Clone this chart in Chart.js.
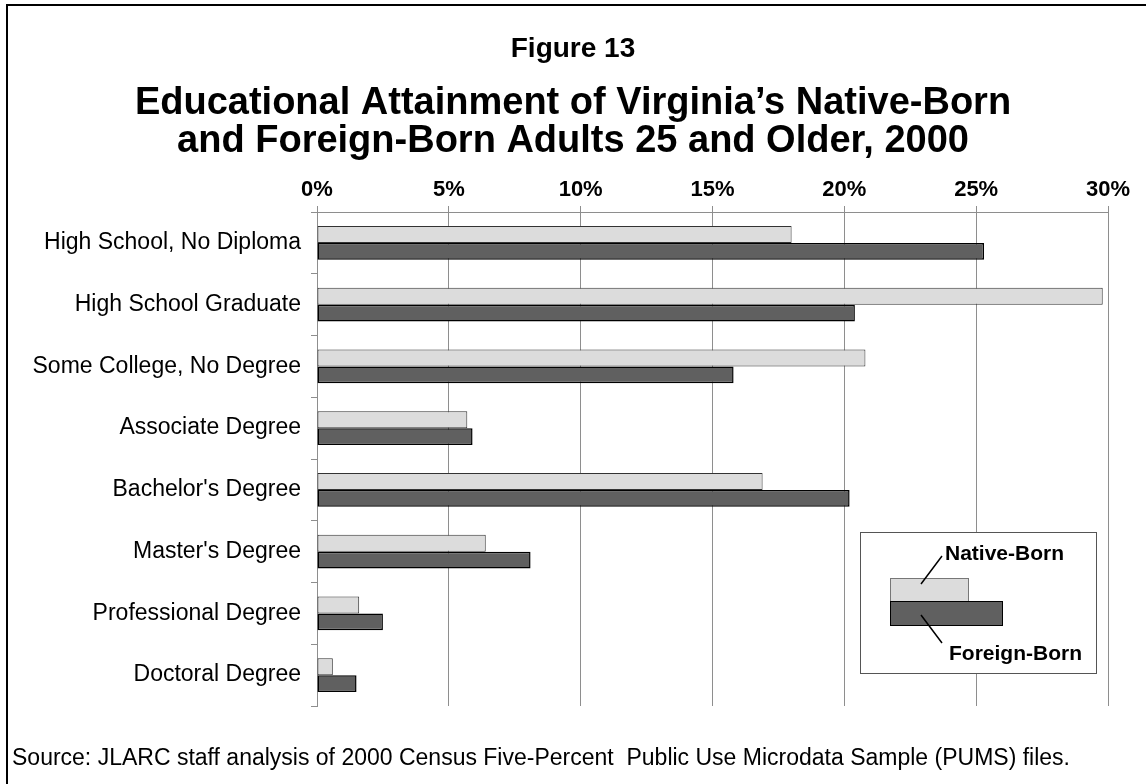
<!DOCTYPE html>
<html>
<head>
<meta charset="utf-8">
<script src="https://cdn.jsdelivr.net/npm/chart.js@4.4.0/dist/chart.umd.min.js"></script>
<style>
  html, body { margin: 0; padding: 0; background: #fff; }
  #wrap { width: 1146px; height: 784px; position: relative; }
</style>
</head>
<body>
<div id="wrap"><canvas id="eduChart" width="1146" height="784"></canvas></div>
<script>
// Figure 13 data (percent of adults 25+)
const categories = [
    "High School, No Diploma",
    "High School Graduate",
    "Some College, No Degree",
    "Associate Degree",
    "Bachelor's Degree",
    "Master's Degree",
    "Professional Degree",
    "Doctoral Degree"
];
const nativeBorn = [18.0, 29.8, 20.8, 5.7, 16.9, 6.4, 1.6, 0.6];
const foreignBorn = [25.3, 20.4, 15.8, 5.9, 20.2, 8.1, 2.5, 1.5];
const tickValues = [0, 5, 10, 15, 20, 25, 30];

const titleLines = [
    "Figure 13",
    "Educational Attainment of Virginia\u2019s Native-Born",
    "and Foreign-Born Adults 25 and Older, 2000"
];
const sourceNote = "Source: JLARC staff analysis of 2000 Census Five-Percent  Public Use Microdata Sample (PUMS) files.";

const FONT = '"Liberation Sans", Arial, sans-serif';
const gridGray = '#8e8e8e';

// titles, frame, source line and the boxed legend
const decorations = {
    id: 'decorations',
    afterDraw(chart) {
        const c = chart.ctx;
        c.save();

        // frame (top + left only)
        c.strokeStyle = '#000';
        c.lineWidth = 2;
        c.beginPath();
        c.moveTo(1146, 5);
        c.lineTo(7, 5);
        c.lineTo(7, 784);
        c.stroke();

        c.fillStyle = '#000';
        c.textAlign = 'center';
        c.textBaseline = 'middle';
        c.font = 'bold 28px ' + FONT;
        c.fillText(titleLines[0], 573, 49);
        c.font = 'bold 38px ' + FONT;
        c.fillText(titleLines[1], 573, 104);
        c.fillText(titleLines[2], 573, 142);

        c.textAlign = 'left';
        c.font = '23px ' + FONT;
        c.fillText(sourceNote, 12, 759);

        // legend box
        const ds = chart.data.datasets;
        const bx = 860, by = 532, bw = 236, bh = 141;
        c.fillStyle = '#fff';
        c.fillRect(bx, by, bw, bh);
        c.strokeStyle = '#555';
        c.lineWidth = 1;
        c.strokeRect(bx + 0.5, by + 0.5, bw, bh);

        c.fillStyle = ds[0].backgroundColor;
        c.fillRect(890, 578, 78, 23);
        c.strokeStyle = '#777';
        c.strokeRect(890.5, 578.5, 78, 23);
        c.fillStyle = ds[1].backgroundColor;
        c.fillRect(890, 601, 112, 24);
        c.strokeStyle = '#000';
        c.strokeRect(890.5, 601.5, 112, 24);

        c.lineWidth = 1.5;
        c.beginPath();
        c.moveTo(942, 556); c.lineTo(921, 584);
        c.moveTo(921, 615); c.lineTo(942, 643);
        c.stroke();

        c.fillStyle = '#000';
        c.font = 'bold 21px ' + FONT;
        c.textBaseline = 'alphabetic';
        c.fillText(ds[0].label, 945, 560);
        c.fillText(ds[1].label, 949, 660);

        c.restore();
    }
};

const ctx = document.getElementById('eduChart').getContext('2d');

const eduChart = new Chart(ctx, {
    type: 'bar',
    data: {
        labels: categories,
        datasets: [{
            label: 'Native-Born',
            data: nativeBorn,
            backgroundColor: '#dcdcdc',
            borderColor: '#333',
            borderWidth: 1,
            borderSkipped: false
        }, {
            label: 'Foreign-Born',
            data: foreignBorn,
            backgroundColor: '#606060',
            borderColor: '#000',
            borderWidth: 1.5,
            borderSkipped: false
        }]
    },
    options: {
        indexAxis: 'y',
        responsive: false,
        animation: false,
        events: [],
        layout: {
            padding: { top: 162, right: 38, bottom: 78, left: 0 }
        },
        datasets: {
            bar: { categoryPercentage: 0.55, barPercentage: 1.0 }
        },
        plugins: {
            legend: { display: false },
            tooltip: { enabled: false }
        },
        scales: {
            x: {
                position: 'top',
                min: 0,
                max: 30,
                afterFit(scale) { scale.height = 50; },
                afterBuildTicks(scale) {
                    scale.ticks = tickValues.map(v => ({ value: v }));
                },
                ticks: {
                    padding: 3,
                    color: '#000',
                    font: { family: FONT, size: 22, weight: 'bold' },
                    callback: v => v + '%'
                },
                grid: {
                    color: gridGray,
                    tickColor: gridGray,
                    tickLength: 6,
                    lineWidth: 1
                },
                border: { color: gridGray, width: 1 }
            },
            y: {
                afterFit(scale) { scale.width = 317; },
                ticks: {
                    padding: 10,
                    color: '#000',
                    font: { family: FONT, size: 23 }
                },
                grid: {
                    offset: true,
                    tickLength: 6,
                    tickColor: gridGray,
                    color: c => (c.index === categories.length ? gridGray : 'rgba(0,0,0,0)')
                },
                border: { color: gridGray, width: 1 }
            }
        }
    },
    plugins: [decorations]
});
</script>
</body>
</html>
